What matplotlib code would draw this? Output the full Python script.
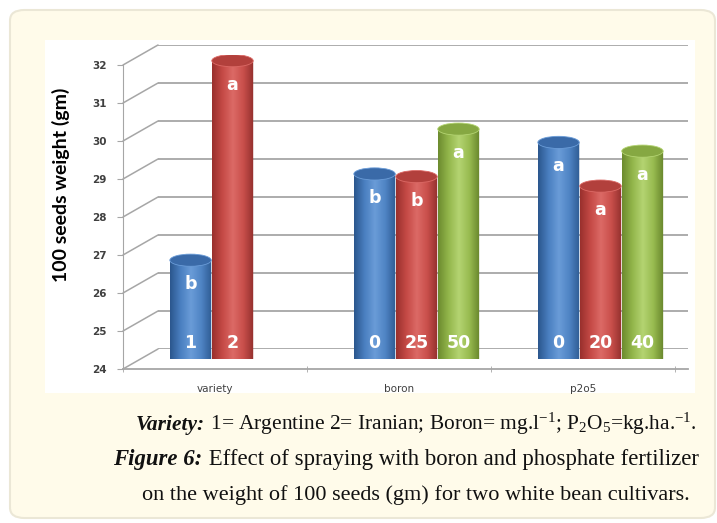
import numpy as np
import matplotlib
matplotlib.use("Agg")
import matplotlib.pyplot as plt
from matplotlib.patches import FancyBboxPatch, Rectangle, Ellipse, Polygon, ConnectionPatch
from matplotlib.colors import LinearSegmentedColormap
from matplotlib.lines import Line2D

# chart data
categories = ["variety", "boron", "p2o5"]
series_blue = [26.6, 28.87, 29.7]
series_red = [31.85, 28.8, 28.55]
series_green = [np.nan, 30.05, 29.47]
letters_blue = ["b", "b", "a"]
letters_red = ["a", "b", "a"]
letters_green = ["", "a", "a"]
levels_blue = ["1", "0", "0"]
levels_red = ["2", "25", "20"]
levels_green = ["", "50", "40"]
yticks = [24, 25, 26, 27, 28, 29, 30, 31, 32]

W, H = 717, 523
fig = plt.figure(figsize=(W / 100, H / 100), dpi=100)
fig.patch.set_facecolor("white")
plt.rcParams["mathtext.fontset"] = "custom"
plt.rcParams["mathtext.rm"] = "Liberation Serif"
plt.rcParams["mathtext.it"] = "Liberation Serif:italic"
plt.rcParams["mathtext.bf"] = "Liberation Serif:bold"


def rect(x0, y0, x1, y1):
    # pixel box (top-left origin) -> figure fraction rect
    return [x0 / W, 1 - y1 / H, (x1 - x0) / W, (y1 - y0) / H]


# cream card and white chart area
fig.patches.append(FancyBboxPatch((10 / W, 1 - 518 / H), 705 / W, 508 / H,
                                  boxstyle="round,pad=0,rounding_size=0.02",
                                  transform=fig.transFigure, facecolor="#fffbea",
                                  edgecolor="#ebe7d6", linewidth=1.5, zorder=0))
fig.patches.append(Rectangle((45 / W, 1 - 393 / H), 650 / W, 353 / H,
                             transform=fig.transFigure, facecolor="white",
                             edgecolor="none", zorder=0.5))

dx, dy = 35, 20  # depth offset of the back wall in pixels
front = fig.add_axes(rect(123, 65, 675, 369))
mid = fig.add_axes(rect(123 + dx / 2, 65 - dy / 2, 675 + dx / 2, 369 - dy / 2))
back = fig.add_axes(rect(123 + dx, 65 - dy, 653 + dx, 369 - dy))
for ax in (front, mid, back):
    ax.set_xlim(-0.5, 2.5)
    ax.set_ylim(24, 32)
    ax.patch.set_alpha(0)
    for s in ax.spines.values():
        s.set_visible(False)
back.set_zorder(1)
mid.set_zorder(3)
front.set_zorder(2)

# back wall grid
back.set_xticks([])
back.set_yticks([])
for v in yticks:
    back.axhline(v, color="#a6a6a6", lw=1.3)
    con = ConnectionPatch(xyA=(-0.5, v), coordsA=front.transData,
                          xyB=(-0.5, v), coordsB=back.transData,
                          color="#a6a6a6", lw=1.1)
    fig.add_artist(con)

# front axis
front.spines["left"].set_visible(True)
front.spines["left"].set_color("#a6a6a6")
front.set_yticks(yticks)
front.set_yticklabels([str(v) for v in yticks], fontsize=7.5, fontweight="bold", color="#404040")
front.tick_params(axis="y", length=4, color="#a6a6a6", pad=8)
front.set_xticks(range(len(categories)))
front.set_xticklabels(categories, fontsize=7.5, color="#404040")
front.tick_params(axis="x", length=0, pad=11)
front.set_xticks([-0.5, 0.5, 1.5, 2.5], minor=True)
front.tick_params(axis="x", which="minor", length=4, color="#a6a6a6", direction="inout")
front.add_line(Line2D([0, 1.024], [0, 0], transform=front.transAxes, color="#a6a6a6", lw=1.3,
                      clip_on=False))

# cylinders
bw = 0.225
slot = 0.228
palettes = {
    "blue": ["#2b568d", "#4a7fc0", "#6a9cd8", "#4f84c4", "#2e5b93"],
    "red": ["#99302d", "#c54a46", "#dc6a66", "#c94f4b", "#92302d"],
    "green": ["#6c8b2e", "#93b64b", "#b4d472", "#98bb50", "#67852b"],
}
tops = {"blue": "#3a6aa8", "red": "#b2403c", "green": "#86a842"}
series = [("blue", series_blue, letters_blue, levels_blue, -1),
          ("red", series_red, letters_red, levels_red, 0),
          ("green", series_green, letters_green, levels_green, 1)]
eh = 0.32
theta = np.linspace(np.pi, 2 * np.pi, 40)
for name, vals, lets, levs, k in series:
    cmap = LinearSegmentedColormap.from_list(name, palettes[name])
    grad = np.linspace(0, 1, 128).reshape(1, -1)
    for i, v in enumerate(vals):
        if np.isnan(v):
            continue
        xc = i + k * slot
        x0, x1 = xc - bw / 2, xc + bw / 2
        arc = np.column_stack([xc + bw / 2 * np.cos(theta), 24 + eh / 2 * np.sin(theta)])
        verts = np.vstack([[x0, v], arc, [x1, v]])
        body = Polygon(verts, closed=True, facecolor="none", edgecolor="none",
                       transform=mid.transData)
        mid.add_patch(body)
        im = mid.imshow(grad, cmap=cmap, extent=(x0, x1, 24 - eh, v), aspect="auto",
                        interpolation="bilinear", zorder=2)
        im.set_clip_path(body)
        mid.add_patch(Ellipse((xc, v), bw, eh, facecolor=tops[name], edgecolor=palettes[name][2],
                              lw=0.6, zorder=3))
        mid.text(xc, v - 0.63, lets[i], ha="center", va="center", color="white",
                 fontsize=12.5, fontweight="bold", zorder=4)
        mid.text(xc, 24.42, levs[i], ha="center", va="center", color="white",
                 fontsize=12.5, fontweight="bold", zorder=4)
mid.set_xlim(-0.5, 2.5)
mid.set_ylim(24, 32)
mid.set_xticks([])
mid.set_yticks([])

# y label
fig.text(61 / W, 1 - 185 / H, "100 seeds weight (gm)", rotation=90, ha="center", va="center",
         fontsize=14, fontweight="bold", family="Lato")

# caption: bold-italic lead followed by regular text, centred as one line
renderer = fig.canvas.get_renderer()


def caption_line(xc, y, lead, rest, size=16):
    base = dict(va="baseline", fontsize=size, family="Liberation Serif", color="#111111")
    parts = []
    if lead:
        parts.append(fig.text(0, 0, lead, fontstyle="italic", fontweight="bold", **base))
    parts.append(fig.text(0, 0, rest, **base))
    widths = [p.get_window_extent(renderer).width for p in parts]
    x = xc - sum(widths) / 2
    for p, w in zip(parts, widths):
        p.set_position((x / W, 1 - y / H))
        x += w


caption_line(416, 430, "Variety:",
             r" 1= Argentine 2= Iranian; Boron= mg.l$^{-1}$; P$_2$O$_5$=kg.ha.$^{-1}$.", size=15.4)
caption_line(406, 465, "Figure 6:", " Effect of spraying with boron and phosphate fertilizer",
             size=16.4)
caption_line(416, 500, "", "on the weight of 100 seeds (gm) for two white bean cultivars.")

fig.savefig("out.png", dpi=100)
